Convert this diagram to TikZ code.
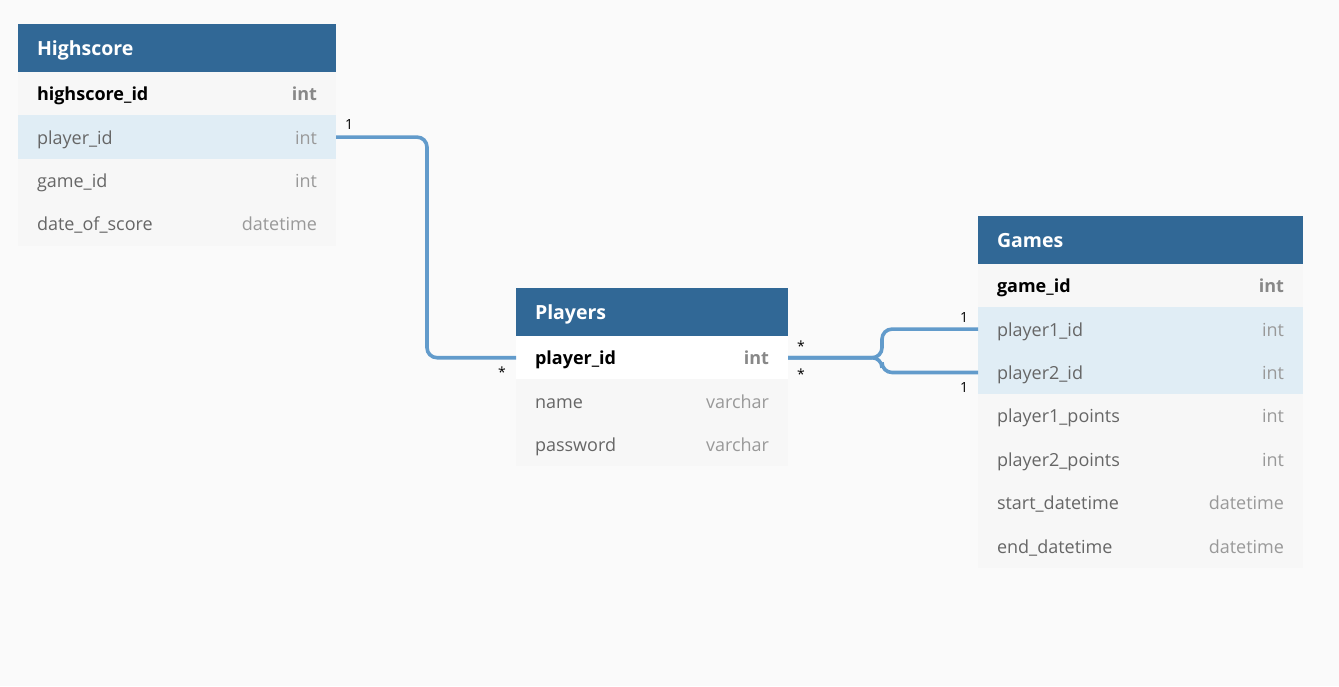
\documentclass[tikz,border=0pt]{standalone}
\usepackage{fontspec}
\setmainfont{Open Sans}
\usetikzlibrary{calc}
\definecolor{bgcol}{HTML}{FAFAFA}
\definecolor{headcol}{HTML}{316896}
\definecolor{rowgray}{HTML}{F7F7F7}
\definecolor{rowblue}{HTML}{E0EDF5}
\definecolor{rowwhite}{HTML}{FFFFFF}
\definecolor{linkcol}{HTML}{629BCB}
\definecolor{namecol}{HTML}{666666}
\definecolor{typecol}{HTML}{999999}
\definecolor{pktypecol}{HTML}{888888}
\tikzset{
  tbl/.style={rectangle, anchor=north west, inner xsep=19pt, inner ysep=0pt, outer sep=0pt,
    minimum height=43.4pt, align=left, text height=16pt, text depth=2pt,
    font=\fontsize{18}{21}\selectfont},
  headbox/.style={tbl, fill=headcol, minimum height=48pt, text=white, text height=16.5pt, text depth=1.5pt,
    font=\fontsize{19.5}{23}\selectfont\bfseries},
  rowbox/.style={tbl, fill=rowgray, text=namecol},
  linkline/.style={draw=linkcol, line width=3.6pt, rounded corners=10pt},
  card/.style={inner sep=0pt, font=\fontsize{14}{16}\selectfont, text=black},
}
\newcommand\pkrow[2]{\textcolor{black}{\bfseries #1}\hfill\textcolor{pktypecol}{\bfseries #2}}
\newcommand\frow[2]{#1\hfill\textcolor{typecol}{#2}}
\begin{document}
\begin{tikzpicture}[x=1pt,y=-1pt]
\fill[bgcol] (0,0) rectangle (1339,686);
\useasboundingbox (0,0) rectangle (1339,686);
% Highscore
\node[headbox, text width=280pt] (hsh) at (18,24) {Highscore};
\node[rowbox, text width=280pt] (hs1) at (18,72) {\pkrow{highscore\_id}{int}};
\node[rowbox, fill=rowblue, text width=280pt] (hs2) at (18,115.4) {\frow{player\_id}{int}};
\node[rowbox, text width=280pt] (hs3) at (18,158.8) {\frow{game\_id}{int}};
\node[rowbox, text width=280pt] (hs4) at (18,202.2) {\frow{date\_of\_score}{datetime}};
% Players
\node[headbox, text width=234pt] (plh) at (516,288) {Players};
\node[rowbox, fill=rowwhite, text width=234pt] (pl1) at (516,336) {\pkrow{player\_id}{int}};
\node[rowbox, text width=234pt] (pl2) at (516,379.4) {\frow{name}{varchar}};
\node[rowbox, text width=234pt] (pl3) at (516,422.8) {\frow{password}{varchar}};
% Games
\node[headbox, text width=287pt] (gmh) at (978,216) {Games};
\node[rowbox, text width=287pt] (gm1) at (978,264) {\pkrow{game\_id}{int}};
\node[rowbox, fill=rowblue, text width=287pt] (gm2) at (978,307.4) {\frow{player1\_id}{int}};
\node[rowbox, fill=rowblue, text width=287pt] (gm3) at (978,350.8) {\frow{player2\_id}{int}};
\node[rowbox, text width=287pt] (gm4) at (978,394.2) {\frow{player1\_points}{int}};
\node[rowbox, text width=287pt] (gm5) at (978,437.6) {\frow{player2\_points}{int}};
\node[rowbox, text width=287pt] (gm6) at (978,481) {\frow{start\_datetime}{datetime}};
\node[rowbox, text width=287pt] (gm7) at (978,524.4) {\frow{end\_datetime}{datetime}};
% connectors
\coordinate (k1) at (427,0);
\coordinate (k2) at (882,0);
\draw[linkline] (hs2.east) -- (hs2.east -| k1) -- (pl1.west -| k1) -- (pl1.west);
\draw[linkline] (pl1.east) -- (pl1.east -| k2) -- (gm2.west -| k2) -- (gm2.west);
\draw[linkline] (pl1.east) -- (pl1.east -| k2) -- (gm3.west -| k2) -- (gm3.west);
% cardinality labels
\node[card] (c1) at (349,124) {1};
\node[card] (c2) at (502,372) {*};
\node[card] (c3) at (801,346) {*};
\node[card] (c4) at (801,374) {*};
\node[card] (c5) at (964,317) {1};
\node[card] (c6) at (964,387) {1};
\end{tikzpicture}
\end{document}
